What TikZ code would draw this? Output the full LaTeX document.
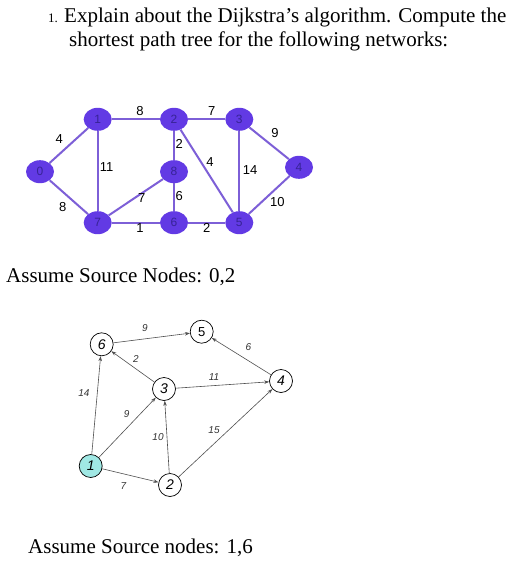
\documentclass[tikz,border=0pt]{standalone}
\usepackage{fontspec}
\setmainfont{Liberation Serif}
\newfontfamily\arialf{Liberation Sans}
\usetikzlibrary{arrows.meta,shapes.geometric}
\definecolor{vnode}{RGB}{98,58,228}
\definecolor{vedge}{RGB}{125,95,215}
\definecolor{vtext}{RGB}{55,35,150}
\definecolor{cyanfill}{RGB}{160,232,228}
\definecolor{gedge}{RGB}{80,80,80}
\tikzset{
  vn/.style={ellipse, fill=vnode, minimum width=28pt, minimum height=23pt, inner sep=0pt,
             text=vtext, font=\arialf\fontsize{12}{12}\selectfont},
  ve/.style={draw=vedge, line width=2pt},
  vl/.style={font=\arialf\fontsize{13}{13}\selectfont, inner sep=0pt},
  cn/.style={circle, draw=black, line width=0.7pt, minimum size=23pt, inner sep=0pt, fill=white,
             font=\arialf\itshape\fontsize{14}{14}\selectfont},
  ce/.style={draw=gedge, line width=0.6pt, -{Stealth[length=5pt,width=3.5pt]}},
  cl/.style={font=\arialf\itshape\fontsize{10}{10}\selectfont, inner sep=0pt, text=black!80},
  ttl/.style={anchor=base west, inner sep=0pt, font=\fontsize{21}{24}\selectfont},
}
\begin{document}
\begin{tikzpicture}[x=1pt,y=-1pt]
\useasboundingbox[fill=white] (0,0) rectangle (521,562);
% title
\node[ttl, font=\fontsize{13}{13}\selectfont] (num) at (48,22) {1.};
\node[ttl] (t1) at (64,22) {Explain about the Dijkstra’s algorithm. Compute the};
\node[ttl] (t2) at (69,46) {shortest path tree for the following networks:};
% graph 1
\node[vn] (n0) at (40,171.7) {0};
\node[vn] (n1) at (97.7,119.3) {1};
\node[vn] (n2) at (174,119.3) {2};
\node[vn] (n3) at (239.3,119.3) {3};
\node[vn] (n4) at (299,167.3) {4};
\node[vn] (n8) at (174,171.7) {8};
\node[vn] (n7) at (97.7,222.7) {7};
\node[vn] (n6) at (174,222.7) {6};
\node[vn] (n5) at (239.3,222.7) {5};
\draw[ve] (n0) -- (n1);
\draw[ve] (n0) -- (n7);
\draw[ve] (n1) -- (n2);
\draw[ve] (n1) -- (n7);
\draw[ve] (n2) -- (n3);
\draw[ve] (n2) -- (n8);
\draw[ve] (n2) -- (n5);
\draw[ve] (n3) -- (n5);
\draw[ve] (n3) -- (n4);
\draw[ve] (n4) -- (n5);
\draw[ve] (n7) -- (n8);
\draw[ve] (n8) -- (n6);
\draw[ve] (n7) -- (n6);
\draw[ve] (n6) -- (n5);
\node[vl] (w01) at (59.3,139.3) {4};
\node[vl] (w07) at (62.7,206.7) {8};
\node[vl] (w12) at (140,110.7) {8};
\node[vl] (w17) at (106.7,166.7) {11};
\node[vl] (w23) at (211.7,110.7) {7};
\node[vl] (w28) at (179.3,144) {2};
\node[vl] (w25) at (210,161.7) {4};
\node[vl] (w35) at (250,170) {14};
\node[vl] (w34) at (275,133.3) {9};
\node[vl] (w45) at (277.3,201.7) {10};
\node[vl] (w78) at (141.7,198.3) {7};
\node[vl] (w86) at (179.3,196) {6};
\node[vl] (w76) at (140,228.3) {1};
\node[vl] (w65) at (206.7,228.3) {2};
\node[ttl] (s1) at (6,282) {Assume Source Nodes: 0,2};
% graph 2
\node[cn] (c6) at (101.7,344.3) {6};
\node[cn, font=\arialf\fontsize{13}{13}\selectfont] (c5) at (201.7,331.7) {5};
\node[cn] (c3) at (164,389) {3};
\node[cn] (c4) at (281,381) {4};
\node[cn, fill=cyanfill] (c1) at (90.7,466) {1};
\node[cn] (c2) at (170,485) {2};
\draw[ce] (c6) -- (c5);
\draw[ce] (c4) -- (c5);
\draw[ce] (c3) -- (c6);
\draw[ce] (c3) -- (c4);
\draw[ce] (c1) -- (c6);
\draw[ce] (c1) -- (c3);
\draw[ce] (c2) -- (c3);
\draw[ce] (c2) -- (c4);
\draw[ce] (c1) -- (c2);
\node[cl] (l65) at (145,328.3) {9};
\node[cl] (l45) at (248.3,346.7) {6};
\node[cl] (l36) at (136,359.3) {2};
\node[cl] (l34) at (214,377) {11};
\node[cl] (l16) at (84,393.3) {14};
\node[cl] (l13) at (126.7,414) {9};
\node[cl] (l23) at (158,436.7) {10};
\node[cl] (l24) at (214,430) {15};
\node[cl] (l12) at (123.3,486) {7};
\node[ttl] (s2) at (28,553) {Assume Source nodes: 1,6};
\end{tikzpicture}
\end{document}
